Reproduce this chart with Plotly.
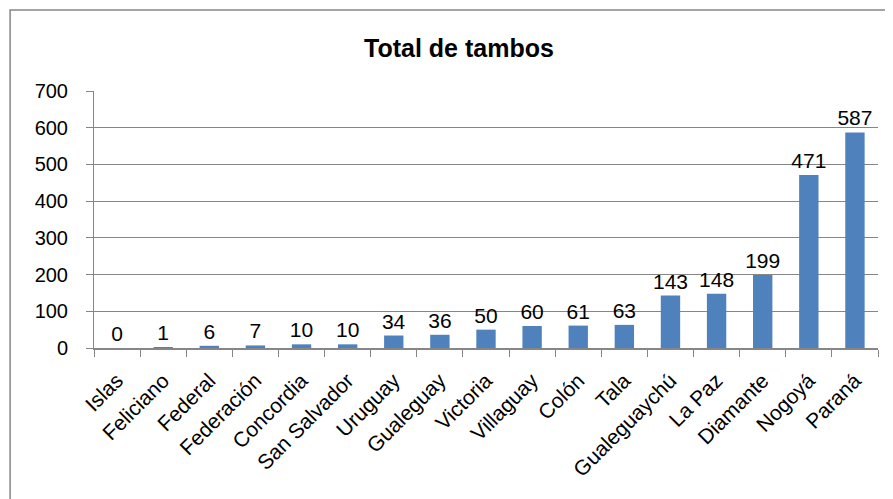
import plotly.graph_objects as go

departamentos = ["Islas", "Feliciano", "Federal", "Federación", "Concordia", "San Salvador",
                 "Uruguay", "Gualeguay", "Victoria", "Villaguay", "Colón", "Tala",
                 "Gualeguaychú", "La Paz", "Diamante", "Nogoyá", "Paraná"]
tambos = [0, 1, 6, 7, 10, 10, 34, 36, 50, 60, 61, 63, 143, 148, 199, 471, 587]

FONT = "Liberation Sans"

fig = go.Figure(
    go.Bar(
        x=departamentos,
        y=tambos,
        marker=dict(color="#4F81BD", line=dict(width=0)),
        text=tambos,
        textposition="outside",
        textfont=dict(size=21, color="black", family=FONT),
        cliponaxis=False,
    )
)

# the page body adds an 8px offset, so margins are compensated
fig.update_layout(
    width=893,
    height=499,
    margin=dict(l=86, r=23, t=83, b=159),
    paper_bgcolor="white",
    plot_bgcolor="white",
    bargap=0.58,
    showlegend=False,
    uniformtext=dict(minsize=21, mode="show"),
    font=dict(family=FONT, color="black", size=19),
    title=dict(
        text="<b>Total de tambos</b>",
        x=0.505,
        xanchor="center",
        y=0.92,
        yanchor="middle",
        font=dict(size=25, family=FONT, color="black"),
    ),
)

fig.update_xaxes(
    type="category",
    automargin=False,
    tickson="boundaries",
    ticks="outside",
    ticklen=7,
    tickcolor="#868686",
    tickangle=-45,
    ticklabelstandoff=10,
    tickfont=dict(size=21),
    showline=True,
    linecolor="#868686",
    linewidth=2,
    showgrid=False,
)
fig.update_yaxes(
    automargin=False,
    range=[0, 700],
    dtick=100,
    ticks="outside",
    ticklen=7,
    tickcolor="#868686",
    ticklabelstandoff=14,
    tickfont=dict(size=20),
    showline=True,
    linecolor="#868686",
    linewidth=1,
    showgrid=True,
    gridcolor="#868686",
    gridwidth=1,
    zeroline=False,
)

# outer chart border
fig.add_shape(
    type="rect",
    xref="paper", yref="paper",
    x0=-0.107, x1=1.05, y0=-0.7, y1=1.315,
    line=dict(color="#868686", width=1.5),
    layer="below",
)

fig.write_html("out.html")
